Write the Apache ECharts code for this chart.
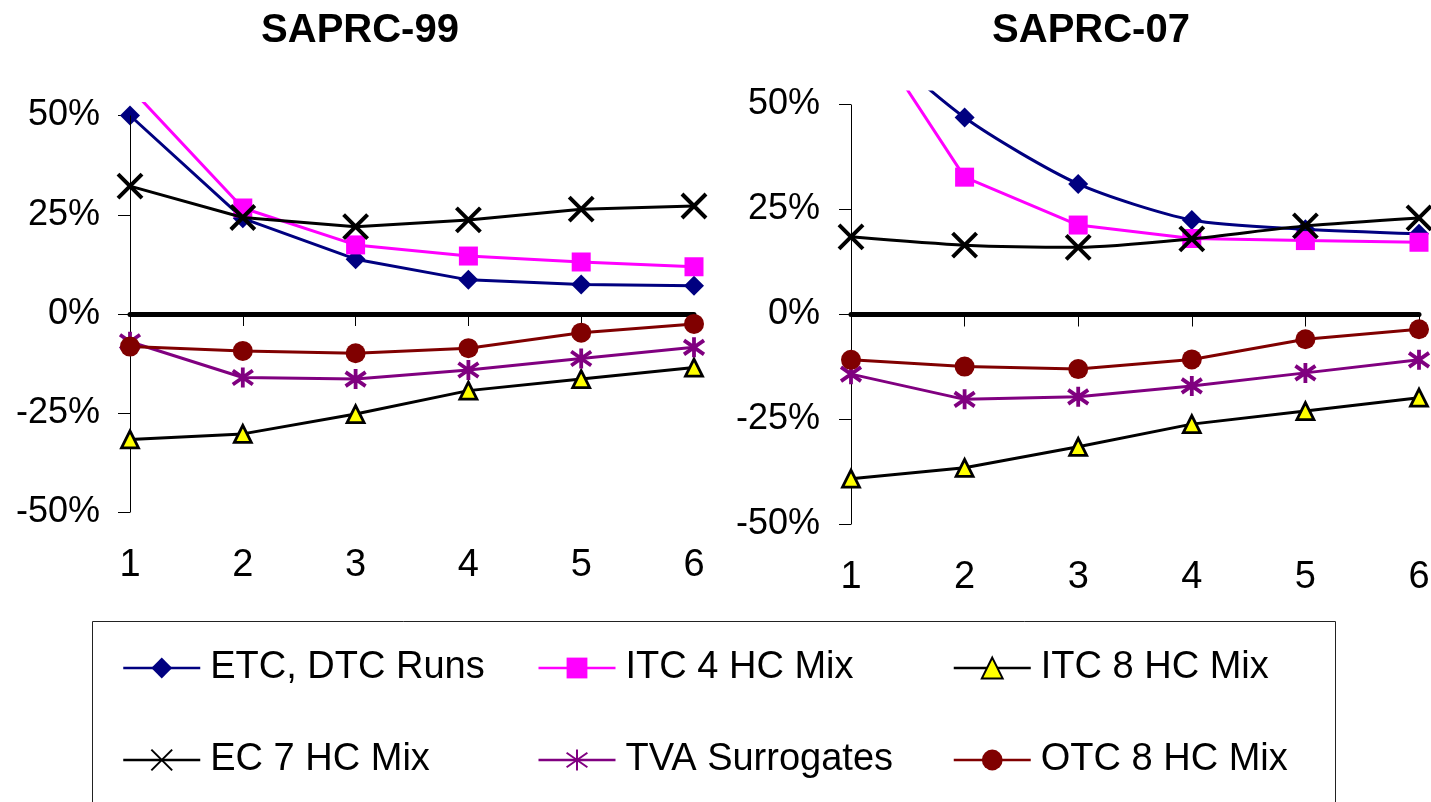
<!DOCTYPE html>
<html>
<head>
<meta charset="utf-8">
<script src="https://cdn.jsdelivr.net/npm/echarts@6/dist/echarts.min.js"></script>
<style>
  html, body { margin: 0; padding: 0; background: #fff; }
  #chart { width: 1431px; height: 802px; }
</style>
</head>
<body>
<div id="chart"></div>
<script>
// ---- data (percent) ----
const categories = ['1', '2', '3', '4', '5', '6'];
const yTicks = [-50, -25, 0, 25, 50];
const seriesNames = ['ETC, DTC Runs', 'ITC 4 HC Mix', 'ITC 8 HC Mix', 'EC 7 HC Mix', 'TVA Surrogates', 'OTC 8 HC Mix'];

// SAPRC-99
const s99Etc = [50.0, 24.1, 13.8, 8.6, 7.4, 7.1];
const s99Itc4 = [57.0, 26.7, 17.4, 14.6, 13.1, 11.9];
const s99Itc8 = [-31.6, -30.2, -25.2, -19.3, -16.4, -13.5];
const s99Ec7 = [32.2, 24.3, 22.0, 23.7, 26.4, 27.2];
const s99Tva = [-7.0, -16.0, -16.4, -14.1, -11.2, -8.4];
const s99Otc = [-8.2, -9.3, -9.9, -8.6, -4.7, -2.5];

// SAPRC-07
const s07Etc = [70.0, 46.9, 31.1, 22.5, 20.3, 19.2];
const s07Itc4 = [74.0, 32.7, 21.3, 18.1, 17.6, 17.2];
const s07Itc8 = [-39.1, -36.5, -31.5, -26.1, -23.0, -19.8];
const s07Ec7 = [18.5, 16.5, 16.0, 18.0, 21.1, 23.0];
const s07Tva = [-14.2, -20.2, -19.6, -17.0, -13.9, -10.8];
const s07Otc = [-10.8, -12.4, -13.0, -10.7, -5.9, -3.5];

// ---- styling ----
const FONT = 'Arial, "Liberation Sans", Helvetica, sans-serif';
const Y_MIN = -50, Y_MAX = 53;   // plot area reaches a little above the 50% tick
const SYM_X = 'path://M0,0L10,10M10,0L0,10';
const SYM_STAR = 'path://M1.5,1.5L8.5,8.5M8.5,1.5L1.5,8.5M5,0L5,10';

const styles = {
  'ETC, DTC Runs':  { symbol: 'diamond', size: 20, line: '#000080', item: { color: '#000080' } },
  'ITC 4 HC Mix':   { symbol: 'rect', size: 19, line: '#FF00FF', item: { color: '#FF00FF' } },
  'ITC 8 HC Mix':   { symbol: 'triangle', size: 17, line: '#000000', item: { color: '#FFFF00', borderColor: '#000000', borderWidth: 2.8 } },
  'EC 7 HC Mix':    { symbol: SYM_X, size: 24, line: '#000000', item: { color: '#000000', borderColor: '#000000', borderWidth: 4 } },
  'TVA Surrogates': { symbol: SYM_STAR, size: 20, line: '#800080', item: { color: '#800080', borderColor: '#800080', borderWidth: 3.8 } },
  'OTC 8 HC Mix':   { symbol: 'circle', size: 20, line: '#800000', item: { color: '#800000' } }
};

const panels = [
  { title: 'SAPRC-99', titleX: 360, values: [s99Etc, s99Itc4, s99Itc8, s99Ec7, s99Tva, s99Otc],
    left: 130, right: 1431 - 694, zeroY: 314, pxPerPct: 3.97, labelMargin: 30, smooth: [] },
  { title: 'SAPRC-07', titleX: 1091, values: [s07Etc, s07Itc4, s07Itc8, s07Ec7, s07Tva, s07Otc],
    left: 851, right: 1431 - 1419, zeroY: 314.5, pxPerPct: 4.2, labelMargin: 31, smooth: ['ETC, DTC Runs', 'EC 7 HC Mix'] }
];

const H = 802;
const grids = [], xAxes = [], yAxes = [], series = [], graphics = [];

panels.forEach(function (p, i) {
  grids.push({
    left: p.left, right: p.right,
    top: p.zeroY - Y_MAX * p.pxPerPct,
    bottom: H - (p.zeroY - Y_MIN * p.pxPerPct),
    outerBoundsMode: 'none', containLabel: false
  });
  xAxes.push({
    type: 'category', gridIndex: i, data: categories, boundaryGap: false,
    axisLine: { lineStyle: { color: '#000', width: 1 } },
    axisTick: { length: 12, alignWithLabel: true, lineStyle: { color: '#000', width: 1 } },
    axisLabel: { interval: 0, fontSize: 38, color: '#000', fontFamily: FONT, margin: 34 },
    splitLine: { show: false }
  });
  yAxes.push({
    type: 'value', gridIndex: i, min: Y_MIN, max: Y_MAX,
    axisLine: { show: false },
    axisTick: { show: true, length: 12, customValues: yTicks, lineStyle: { color: '#000', width: 1 } },
    axisLabel: { customValues: yTicks, formatter: '{value}%', fontSize: 36, color: '#000', fontFamily: FONT, margin: p.labelMargin },
    splitLine: { show: false }
  });

  seriesNames.forEach(function (name, j) {
    const st = styles[name];
    const s = {
      type: 'line', name: name, xAxisIndex: i, yAxisIndex: i,
      data: p.values[j],
      symbol: st.symbol, symbolSize: st.size, showAllSymbol: true,
      smooth: p.smooth.indexOf(name) >= 0 ? 0.25 : false,
      lineStyle: { color: st.line, width: 3 },
      itemStyle: st.item,
      emphasis: { disabled: true },
      clip: true, z: 3 + j
    };
    if (j === 0) {
      // zero reference line and the vertical value axis (from -50% to 50%)
      s.markLine = {
        silent: true, symbol: ['none', 'none'], label: { show: false },
        emphasis: { disabled: true }, animation: false,
        data: [
          { yAxis: 0, lineStyle: { color: '#000', width: 5, type: 'solid', cap: 'round' } },
          [ { coord: [categories[0], -50], lineStyle: { color: '#000', width: 1, type: 'solid' } },
            { coord: [categories[0], 50] } ]
        ]
      };
    }
    series.push(s);
  });

  graphics.push({
    type: 'text', x: p.titleX, y: 31, silent: true,
    style: { text: p.title, fontSize: 40, fontWeight: 'bold', fontFamily: FONT, fill: '#000',
             align: 'center', verticalAlign: 'middle', textAlign: 'center', textVerticalAlign: 'middle' }
  });
});

// legend frame
graphics.push({
  type: 'rect', silent: true,
  shape: { x: 92.5, y: 621.5, width: 1243, height: 220 },
  style: { fill: 'none', stroke: '#222', lineWidth: 1 }
});

const chart = echarts.init(document.getElementById('chart'), null, { renderer: 'canvas' });
chart.setOption({
  backgroundColor: '#fff',
  animation: false,
  grid: grids,
  xAxis: xAxes,
  yAxis: yAxes,
  legend: {
    data: seriesNames, left: 122, top: 622, width: 1260, padding: 0,
    itemGap: 0, itemWidth: 77, itemHeight: 26, selectedMode: false,
    lineStyle: { width: 2.5 },
    textStyle: { fontSize: 38, color: '#000', fontFamily: FONT, width: 327, padding: [0, 0, 0, 5], lineHeight: 92 }
  },
  graphic: graphics,
  series: series
});
</script>
</body>
</html>
